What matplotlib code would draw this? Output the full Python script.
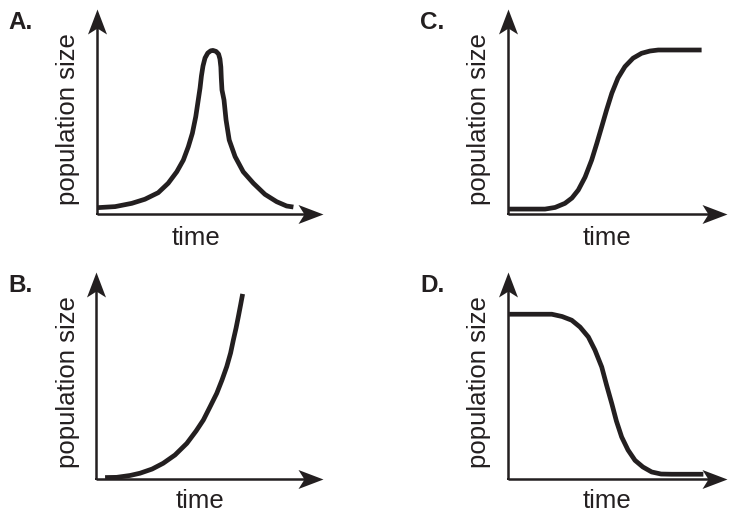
import matplotlib
matplotlib.use("Agg")
import matplotlib.pyplot as plt
from matplotlib.path import Path

# ---- data (units: 0..100 along each axis, 100 = arrow tip) ----
panel_letters = ["A.", "B.", "C.", "D."]
x_label = "time"
y_label = "population size"

a_time = [0.3, 8.0, 15.4, 21.2, 27.1, 31.5, 35.3, 38.2, 40.4, 42.2, 43.7, 44.8, 45.6,
          46.2, 46.9, 47.8, 49.0, 50.3, 51.3, 52.7, 53.8, 54.4, 54.8, 55.0, 55.3, 56.2,
          57.1, 58.5, 61.1, 64.7, 69.2, 74.3, 79.5, 83.9, 86.9]
a_pop = [3.1, 3.6, 5.2, 7.2, 10.4, 15.0, 20.6, 26.3, 32.8, 39.4, 47.5, 55.6, 61.5,
         67.3, 72.2, 76.1, 78.5, 79.6, 79.8, 79.3, 78.0, 75.6, 71.7, 66.3, 60.5, 55.6,
         45.9, 36.1, 28.0, 20.6, 15.0, 9.6, 6.0, 3.9, 3.4]

b_time = [4.0, 9.1, 15.0, 19.4, 24.7, 29.6, 34.8, 40.0, 44.1, 47.3, 50.2, 53.2, 55.5,
          57.6, 59.3, 60.5, 61.7, 62.7, 63.7, 64.6]
b_pop = [0.7, 0.8, 1.7, 2.8, 4.8, 7.6, 11.6, 17.2, 23.2, 28.5, 34.8, 41.4, 47.8,
         54.3, 60.9, 67.1, 72.9, 78.4, 84.1, 89.4]

c_time = [0.5, 10.0, 16.9, 21.5, 26.0, 29.2, 32.1, 35.2, 38.2, 40.6, 42.8, 45.0, 47.4,
          50.2, 53.4, 57.1, 61.0, 64.8, 68.6, 78.5, 88.4]
c_pop = [2.4, 2.4, 2.4, 3.2, 5.2, 7.8, 11.7, 18.0, 26.3, 34.6, 42.6, 50.7, 58.9,
         66.3, 71.9, 76.0, 78.4, 79.5, 80.0, 80.0, 80.0]

d_time = [0.5, 10.0, 20.0, 24.7, 29.1, 32.9, 36.7, 39.7, 42.8, 45.0, 47.4, 49.5, 51.9,
          54.8, 58.0, 61.6, 65.6, 69.9, 74.7, 89.2]
d_pop = [79.6, 79.6, 79.6, 78.5, 76.7, 73.4, 68.6, 62.3, 54.1, 45.4, 36.4, 28.0, 20.3,
         14.0, 9.0, 5.8, 3.4, 2.4, 2.3, 2.3]

series = [(a_time, a_pop), (b_time, b_pop), (c_time, c_pop), (d_time, d_pop)]

# ---- layout ----
W, H = 729, 514
INK = "#231f20"
plt.rcParams["font.family"] = ["Liberation Sans", "DejaVu Sans"]

fig = plt.figure(figsize=(W / 100, H / 100), dpi=100)
fig.patch.set_facecolor("white")

# (origin x, origin y, x-arrow tip, y-arrow tip) in pixels
frames = [(97, 214, 323, 9), (96, 479, 323, 272), (508, 214, 727, 9), (508, 479, 727, 272)]
letter_pos = [(8, 29), (8, 292), (420, 29), (420, 292)]
ylabel_pos = [(68.5, 119.5), (68.5, 382.5), (479, 119.5), (479, 382.5)]
xlabel_pos = [(196, 245), (200, 508.5), (607, 245), (607, 508.5)]

hw = 0.38
notch = 0.76
right_head = Path([(0, 0), (-1, hw), (-notch, 0), (-1, -hw), (0, 0)],
                  [Path.MOVETO, Path.LINETO, Path.LINETO, Path.LINETO, Path.CLOSEPOLY])
up_head = Path([(0, 0), (hw, -1), (0, -notch), (-hw, -1), (0, 0)],
               [Path.MOVETO, Path.LINETO, Path.LINETO, Path.LINETO, Path.CLOSEPOLY])

for i, ((ox, oy, tx, ty), (xs, ys)) in enumerate(zip(frames, series)):
    ax = fig.add_axes([ox / W, 1 - oy / H, (tx - ox) / W, (oy - ty) / H])
    ax.set_xlim(0, 100)
    ax.set_ylim(0, 100)
    ax.axis("off")
    # axes lines
    ax.plot([0, 95], [0, 0], color=INK, lw=1.8, solid_capstyle="butt", clip_on=False)
    ax.plot([0, 0], [0, 95], color=INK, lw=1.8, solid_capstyle="butt", clip_on=False)
    ax.plot([0], [0], marker="s", ms=1.8, color=INK, mew=0, clip_on=False)
    ax.plot([100], [0], marker=right_head, ms=36, color=INK, mew=0, clip_on=False)
    ax.plot([0], [100], marker=up_head, ms=36, color=INK, mew=0, clip_on=False)
    # curve
    ax.plot(xs, ys, color=INK, lw=3.4, solid_capstyle="butt", solid_joinstyle="round",
            clip_on=False)

    lx, ly = letter_pos[i]
    fig.text(lx / W, 1 - ly / H, panel_letters[i], fontsize=17.5, fontweight="bold",
             color=INK, ha="left", va="baseline")
    yx, yy = ylabel_pos[i]
    fig.text(yx / W, 1 - yy / H, y_label, fontsize=18.5, color=INK, rotation=90,
             ha="center", va="center")
    xx, xy = xlabel_pos[i]
    fig.text(xx / W, 1 - xy / H, x_label, fontsize=18.5, color=INK,
             ha="center", va="baseline")

fig.savefig("out.png", dpi=100, facecolor="white")
